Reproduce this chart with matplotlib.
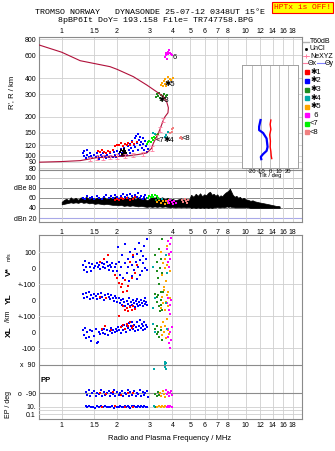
import matplotlib
matplotlib.use('Agg')
import matplotlib.pyplot as plt
from matplotlib.lines import Line2D
from matplotlib.ticker import NullLocator, FixedLocator, FixedFormatter

W, H = 335, 451
plt.rcParams['font.family'] = ['Liberation Sans', 'DejaVu Sans']
plt.rcParams['font.size'] = 5

# ---------------- data ----------------
freq_ticks = [1, 1.5, 2, 3, 4, 5, 6, 7, 8, 10, 12, 14, 16, 18]
freq_labels = ['1', '1.5', '2', '3', '4', '5', '6', '7', '8', '10', '12', '14', '16', '18']
height_ticks = [80, 90, 100, 120, 150, 200, 300, 400, 600, 800]
dbe_ticks = [20, 40, 60, 80, 100]
dbe_labels = ['dBn 20', '40', '60', 'dBe 80', '100']

# electron density profile (true height)
prof_f = [0.755, 1.0, 1.26, 1.83, 2.0, 2.45, 2.9, 3.28, 3.57, 3.72, 3.80, 3.78, 3.64, 3.57,
          3.42, 3.28, 3.15, 3.08, 2.9, 2.6, 2.25, 1.9, 1.55, 1.26, 1.0, 0.755]
prof_h = [721, 634, 545, 490, 467, 410, 353, 313, 287, 262, 235, 215, 200, 189,
          160, 140, 125, 114, 105, 102, 99.5, 98, 96.5, 91.5, 90, 89]
nexyz_f = [1.42, 1.55, 1.68, 1.83, 1.99, 2.21, 2.44, 2.77, 3.08, 3.28, 3.42, 3.57]
nexyz_h = [94, 96.5, 97, 97.5, 98.5, 99.5, 101, 103.5, 114, 140, 160, 189]

# virtual heights of echoes (MHz, km)
rh_blue = [(1.30,104),(1.32,99),(1.33,108),(1.35,96),(1.37,102),(1.38,110),(1.40,98),(1.42,105),
           (1.44,100),(1.46,96),(1.50,101),(1.53,97),(1.55,104),(1.58,99),(1.60,95),(1.63,102),
           (1.66,97),(1.68,104),(1.71,99),(1.74,96),(1.77,102),(1.80,98),(1.83,104),(1.86,100),
           (1.89,97),(1.92,106),(1.95,101),(1.98,98),(2.01,108),(2.04,103),(2.07,99),(2.10,112),
           (2.13,104),(2.16,100),(2.19,115),(2.22,107),(2.25,102),(2.28,118),(2.31,110),(2.34,104),
           (2.36,124),(2.39,114),(2.42,130),(2.44,108),(2.46,120),(2.49,136),(2.51,116),(2.54,142),
           (2.56,126),(2.59,110),(2.61,147),(2.63,132),(2.66,120),(2.68,140),(2.71,128),(2.73,114),
           (2.76,136),(2.78,124),(2.81,110),(2.84,130),(2.87,118),(2.90,106),(2.93,112)]
rh_red = [(1.58,109),(1.62,106),(1.66,110),(1.70,107),(1.74,105),(1.78,109),(1.84,106),(1.90,110),
          (1.96,118),(2.00,122),(2.05,120),(2.10,125),(2.15,119),(2.20,124),(2.25,121),(2.30,126),
          (2.36,122),(2.42,127),(2.48,124),(2.55,128)]
rh_black = [(2.08,106),(2.11,110),(2.13,103),(2.15,108),(2.17,112),(2.19,105),(2.21,109),
            (2.23,104),(2.12,100),(2.18,101)]
rh_lgreen = [(2.90,124),(2.95,128),(3.00,131),(3.04,127),(3.08,136),(3.12,133),(3.16,140),
             (3.20,137),(3.25,145),(3.30,142),(3.34,148)]
rh_teal = [(3.14,151),(3.20,147),(3.64,140),(3.70,144),(3.74,137),(3.77,153)]
rh_salmon = [(3.90,150),(3.96,153),(3.98,160),(4.05,165),(4.40,136),(4.46,139),(4.52,134)]
rh_dgreen = [(3.25,285),(3.30,300),(3.34,292),(3.38,306),(3.42,282),(3.46,296),(3.50,272),
             (3.54,289),(3.58,300),(3.62,280),(3.67,292),(3.72,298)]
rh_orange = [(3.45,352),(3.50,368),(3.54,344),(3.58,380),(3.62,358),(3.66,395),(3.70,348),
             (3.74,374),(3.78,405),(3.82,362),(3.88,392),(3.95,384),(4.02,398)]
rh_magenta = [(3.66,585),(3.68,620),(3.70,600),(3.72,565),(3.76,640),(3.80,612),(3.84,655),
              (3.88,630),(3.92,612),(3.96,598)]
cluster_labels = [('6', 4.00, 575), ('\u27315', 3.64, 357), ('\u27313', 3.35, 270),
                  ('<7', 3.22, 131), ('\u27314', 3.58, 132), ('<8', 4.50, 135)]

# amplitude (dB) envelope
amp_f = [1.00,1.03,1.06,1.09,1.12,1.15,1.19,1.23,1.27,1.31,1.36,1.41,1.46,1.51,1.57,1.63,1.69,
         1.75,1.82,1.89,1.96,2.03,2.10,2.18,2.26,2.34,2.42,2.51,2.60,2.70,2.80,2.90,3.00,3.10,
         3.20,3.30,3.40,3.52,3.64,3.76,3.88,4.00,4.15,4.30,4.45,4.60,4.75,4.90,5.05,5.20,5.35,
         5.50,5.65,5.80,5.95,6.10,6.25,6.40,6.55,6.70,6.85,7.00,7.15,7.30,7.45,7.60,7.75,7.90,
         8.05,8.20,8.35,8.50,8.70,8.90,9.10,9.30,9.50,9.75,10.0,10.3,10.6,10.9,11.2,11.5,11.8,
         12.2,12.6,13.0,13.4,13.8,14.2,14.6,15.0,15.3]
amp_hi = [52,56,58,55,61,57,60,56,61,58,62,57,60,58,61,59,62,58,61,59,63,60,62,58,63,59,62,57,
          61,58,60,55,58,62,60,63,59,61,57,60,56,58,55,57,59,56,58,55,66,62,68,64,69,63,67,65,
          70,72,66,68,64,67,62,65,63,67,70,72,74,78,72,66,62,64,60,62,58,60,57,56,54,55,53,52,
          51,50,49,48,47,46,45,44,44,43]
amp_lo = [47,48,49,50,51,50,51,50,52,50,51,49,50,48,49,48,47,48,47,46,46,45,46,44,45,44,45,44,
          43,44,43,42,43,42,43,42,43,42,43,42,41,42,41,42,41,42,41,42,40,41,40,41,40,41,40,41,
          40,41,40,41,41,42,41,41,42,41,42,43,42,43,42,42,41,41,41,41,41,41,41,41,40,40,40,40,
          40,40,40,40,40,40,40,40,40,40]
dbe_blue = [(1.30,60),(1.34,57),(1.38,63),(1.42,59),(1.46,62),(1.50,58),(1.55,64),(1.60,60),
            (1.65,57),(1.70,62),(1.75,65),(1.80,59),(1.85,63),(1.90,60),(1.95,66),(2.00,62),
            (2.05,58),(2.10,64),(2.15,67),(2.20,61),(2.25,65),(2.30,59),(2.35,68),(2.40,63),
            (2.45,57),(2.50,66),(2.55,62),(2.60,69),(2.65,60),(2.70,64),(2.75,58),(2.80,62),
            (2.85,66),(2.90,60)]
dbe_red = [(1.95,56),(2.00,58),(2.05,55),(2.10,60),(2.15,57),(2.25,59),(2.35,55),(2.45,58),(2.50,61)]
dbe_lgreen = [(2.95,60),(3.00,64),(3.05,62),(3.10,66),(3.15,61),(3.20,65),(3.28,63),(3.35,60)]
dbe_orange = [(3.30,52),(3.40,55),(3.48,50),(3.55,54),(3.62,48),(3.70,53),(3.78,50),(3.85,55)]
dbe_magenta = [(3.78,54),(3.84,50),(3.90,56),(3.96,52),(4.02,48),(4.10,53),(4.18,50)]
dbe_salmon = [(4.50,56),(4.58,52),(4.65,58),(4.72,54),(4.80,50),(4.86,55)]
dbe_dgreen = [(3.25,55),(3.40,58)]
dbe_teal = [(3.50,57)]

# Doppler velocity V* (m/s)
v_blue = [(1.30,20),(1.32,-10),(1.34,45),(1.36,5),(1.38,-25),(1.40,30),(1.42,10),(1.45,-15),
          (1.47,25),(1.50,0),(1.52,15),(1.55,30),(1.58,5),(1.60,20),(1.62,-5),(1.65,35),(1.68,10),
          (1.70,25),(1.73,0),(1.76,40),(1.78,15),(1.80,-10),(1.83,20),(1.86,5),(1.88,30),(1.91,-15),
          (1.94,10),(1.97,25),(2.00,-20),(2.03,130),(2.05,40),(2.08,-40),(2.10,10),(2.13,85),
          (2.16,-60),(2.20,30),(2.22,150),(2.25,-30),(2.28,60),(2.30,5),(2.33,-80),(2.36,100),
          (2.40,20),(2.42,-50),(2.45,70),(2.48,-10),(2.50,120),(2.53,40),(2.55,-70),(2.58,90),
          (2.60,10),(2.63,160),(2.65,-40),(2.68,50),(2.70,110),(2.72,-20),(2.75,75),(2.78,30),
          (2.80,140),(2.83,0),(2.86,60),(2.90,180),(2.92,-10)]
v_red = [(1.62,40),(1.70,60),(1.78,85),(1.95,-40),(2.00,-60),(2.05,-90),(2.10,-120),(2.12,-100),
         (2.15,-150),(2.20,-75),(2.25,-140),(2.30,-110),(2.35,40),(2.40,-60),(2.45,80),(2.50,-30),(2.55,20)]
v_dgreen = [(3.22,80),(3.28,40),(3.30,-20),(3.35,-60),(3.38,120),(3.40,-100),(3.42,0),(3.45,-150),
            (3.48,60),(3.50,180),(3.52,-30)]
v_orange = [(3.45,100),(3.50,-40),(3.55,30),(3.60,-120),(3.62,60),(3.65,0),(3.70,-80),(3.72,140),
            (3.75,20),(3.80,-150),(3.85,80),(3.90,-20)]
v_magenta = [(3.75,120),(3.78,40),(3.80,170),(3.82,90),(3.85,10),(3.88,150),(3.90,60),(3.92,190),(3.95,100)]
v_teal = [(3.15,10),(3.70,80),(3.72,-30)]

# YL (km)
yl_blue = [(1.30,35),(1.32,10),(1.35,45),(1.37,20),(1.40,50),(1.42,5),(1.45,30),(1.48,15),(1.50,40),
           (1.53,25),(1.56,5),(1.58,35),(1.61,15),(1.64,45),(1.66,20),(1.69,0),(1.72,30),(1.75,10),
           (1.78,40),(1.80,20),(1.83,5),(1.86,30),(1.89,15),(1.92,-5),(1.95,25),(1.98,10),(2.01,-10),
           (2.04,15),(2.07,-20),(2.10,0),(2.13,-30),(2.16,5),(2.19,-15),(2.22,-35),(2.25,-5),(2.28,-25),
           (2.31,10),(2.34,-40),(2.37,-10),(2.40,-30),(2.43,0),(2.46,-20),(2.49,-45),(2.52,-5),
           (2.55,-25),(2.58,5),(2.61,-35),(2.64,-10),(2.67,-30),(2.70,0),(2.73,-20),(2.76,-40),
           (2.79,-5),(2.82,-25),(2.85,10),(2.88,-15),(2.91,-30)]
yl_red = [(1.62,20),(1.75,10),(2.15,-40),(2.20,-60),(2.25,-50),(2.30,-70),(2.35,-45),(2.40,-65),
          (2.45,-35),(2.50,-55)]
yl_dgreen = [(3.22,40),(3.28,20),(3.30,-10),(3.35,30),(3.38,-40),(3.42,-70),(3.45,0),(3.48,-30),
             (3.50,-60),(3.55,50)]
yl_orange = [(3.45,-50),(3.50,20),(3.55,-20),(3.60,60),(3.65,-60),(3.70,-10),(3.75,30),(3.80,-40),(3.90,10)]
yl_magenta = [(3.75,-20),(3.80,10),(3.85,-60),(3.88,-90),(3.90,-30),(3.95,0)]
yl_teal = [(3.15,-50),(3.20,10),(3.70,-20)]

# XL (km)
xl_blue = [(1.30,10),(1.32,-20),(1.34,25),(1.36,-40),(1.38,0),(1.40,-30),(1.42,15),(1.45,-55),
           (1.47,5),(1.50,-25),(1.53,20),(1.55,-70),(1.57,-60),(1.60,0),(1.62,-15),(1.65,15),
           (1.68,-5),(1.70,20),(1.73,-10),(1.76,10),(1.79,-20),(1.82,5),(1.85,25),(1.88,-5),
           (1.91,15),(1.94,0),(1.97,20),(2.00,5),(2.03,30),(2.06,10),(2.09,-5),(2.12,35),(2.15,15),
           (2.18,45),(2.21,20),(2.24,0),(2.27,40),(2.30,25),(2.33,55),(2.36,10),(2.39,35),(2.42,60),
           (2.45,20),(2.48,45),(2.51,5),(2.54,30),(2.57,65),(2.60,15),(2.63,40),(2.66,75),(2.69,25),
           (2.72,50),(2.75,10),(2.78,35),(2.81,60),(2.84,20),(2.87,45),(2.90,30)]
xl_red = [(1.65,20),(1.72,40),(1.85,10),(2.05,100),(2.10,30),(2.15,45),(2.20,20),(2.25,50),
          (2.30,35),(2.35,60),(2.40,25),(2.45,40)]
xl_dgreen = [(3.22,20),(3.28,-10),(3.30,40),(3.35,0),(3.40,-30),(3.45,10),(3.50,-50)]
xl_orange = [(3.45,30),(3.50,-20),(3.55,60),(3.60,0),(3.65,40),(3.70,-40),(3.75,80),(3.80,10),(3.85,-10)]
xl_magenta = [(3.78,-30),(3.80,20),(3.85,-70),(3.88,-100),(3.90,0),(3.95,-50),(4.00,30)]
xl_teal = [(3.15,50),(3.20,0),(3.72,20)]

# polarization PP (deg)
pp_blue = [(1.35,-80),(1.38,-100),(1.40,-70),(1.43,-110),(1.46,-90),(1.50,-75),(1.53,-105),
           (1.56,-85),(1.60,-95),(1.63,-70),(1.66,-110),(1.70,-80),(1.73,-100),(1.76,-90),(1.80,-75),
           (1.83,-105),(1.86,-85),(1.90,-95),(1.93,-70),(1.96,-110),(2.00,-80),(2.04,-100),(2.08,-90),
           (2.12,-75),(2.16,-105),(2.20,-85),(2.24,-95),(2.28,-70),(2.32,-110),(2.36,-80),(2.40,-100),
           (2.44,-90),(2.48,-75),(2.52,-105),(2.56,-85),(2.60,-95),(2.65,-72),(2.70,-108),(2.75,-82),
           (2.80,-98),(2.85,-88),(2.90,-78),(2.96,-112)]
pp_red = [(1.62,-85),(1.75,-95),(1.90,-80),(2.10,-100),(2.30,-90),(2.45,-85)]
pp_dgreen = [(3.22,-95),(3.28,-110),(3.32,-80),(3.38,-100)]
pp_orange = [(3.42,-90),(3.48,-105),(3.55,-75),(3.60,-95),(3.65,-115)]
pp_magenta = [(3.70,-70),(3.74,-95),(3.78,-80),(3.82,-110),(3.86,-90),(3.92,-75),(3.98,-100)]
pp_teal = [(3.17,63),(3.62,110),(3.64,95),(3.66,78),(3.68,62),(3.70,100)]

# EP (deg)
ep_blue = [(1.35,12),(1.38,7),(1.41,15),(1.44,9),(1.48,11),(1.52,6),(1.56,14),(1.60,8),(1.64,12),
           (1.68,10),(1.72,16),(1.76,7),(1.80,11),(1.84,9),(1.88,13),(1.92,6),(1.96,15),(2.00,10),
           (2.04,8),(2.08,14),(2.12,11),(2.16,7),(2.20,13),(2.24,9),(2.28,16),(2.32,10),(2.36,6),
           (2.40,12),(2.44,9),(2.48,15),(2.52,11),(2.56,7),(2.60,13),(2.65,10),(2.70,17),(2.75,8),
           (2.80,12),(2.86,9),(2.92,11)]
ep_red = [(1.65,10),(1.95,12),(2.20,9),(2.45,11)]
ep_teal = [(3.18,12),(3.22,9)]
ep_dgreen = [(3.26,10)]
ep_orange = [(3.30,11),(3.38,14),(3.45,10),(3.52,13),(3.60,9),(3.66,12)]
ep_magenta = [(3.72,11),(3.78,14),(3.84,10),(3.90,12),(3.96,9)]

# tilt inset
tilt_blue_h = [189, 168, 158, 150, 136, 117, 109, 103, 98, 94]
tilt_blue = [-10.8, -12.4, -12.4, -7.9, -4.0, -2.9, -4.0, -7.9, -10.5, -10.0]
tilt_red_h = [189, 175, 160, 145, 130, 117, 108, 100, 95]
tilt_red = [0.8, 0.0, 0.8, -0.5, 0.3, 0.0, 0.8, 1.2, 1.8]
tilt_ticks = [-20, -10, 0, 10, 20]

legend_entries = [('\u27311', 'red'), ('\u27312', 'blue'), ('\u27313', 'dgreen'), ('\u27314', 'teal'),
                  ('\u27315', 'orange'), ('  6', 'magenta'), ('<7', 'lgreen'), ('<8', 'salmon')]

# ---------------- style ----------------
COL = {'red': '#ff0000', 'blue': '#0000ff', 'dgreen': '#1e8c1e', 'teal': '#00a8a8',
       'orange': '#ffa500', 'magenta': '#ff00ff', 'lgreen': '#00f000', 'salmon': '#f08080',
       'black': '#000000'}
GRID = '#cfcfcf'
SPINE = '#8a8a8a'
PROF = '#b0103a'
PINK = '#ff7fa0'
XLIM = (0.7556, 20.15)


def rect(x0, y0, x1, y1):
    return [x0 / W, 1 - y1 / H, (x1 - x0) / W, (y1 - y0) / H]


def sc(ax, pts, color, s=4.6, z=3):
    ax.scatter([p[0] for p in pts], [p[1] for p in pts], s=s, marker='s',
               c=COL[color], linewidths=0, zorder=z, clip_on=True)


def freq_axis(ax, labels=True, pad=2, top=False):
    ax.set_xscale('log')
    ax.set_xlim(*XLIM)
    ax.xaxis.set_major_locator(FixedLocator(freq_ticks))
    ax.xaxis.set_major_formatter(FixedFormatter(freq_labels if labels else [''] * len(freq_ticks)))
    ax.xaxis.set_minor_locator(NullLocator())
    ax.tick_params(axis='x', length=0, pad=pad, labelsize=5)
    if top:
        ax.xaxis.tick_top()
    for sp in ax.spines.values():
        sp.set_color(SPINE)
        sp.set_linewidth(0.8)
    ax.grid(True, axis='x', color=GRID, lw=0.6, zorder=0)


fig = plt.figure(figsize=(W / 100, H / 100), dpi=100)
fig.patch.set_facecolor('white')

# titles
fig.text(150 / W, 1 - 12.5 / H, 'TROMSO NORWAY   DYNASONDE 25-07-12 0348UT 15\u00b0E',
         family=['Liberation Mono', 'DejaVu Sans Mono'], fontsize=6.0, ha='center', va='center')
fig.text(156 / W, 1 - 20 / H, '8pBP6It DoY= 193.158 File= TR747758.BPG',
         family=['Liberation Mono', 'DejaVu Sans Mono'], fontsize=6.0, ha='center', va='center')
fig.text(302.5 / W, 1 - 7.5 / H, 'HPTx is OFF!', family=['Liberation Mono', 'DejaVu Sans Mono'],
         fontsize=5.8, color='#ff0000', ha='center', va='center',
         bbox=dict(boxstyle='square,pad=0.25', fc='#ffff00', ec='#ff0000', lw=0.8))

# ---------- main height panel ----------
ax = fig.add_axes(rect(39.3, 37, 301.7, 170))
freq_axis(ax, pad=1.5, top=True)
ax.set_yscale('log')
ax.set_ylim(77.4, 832)
ax.yaxis.set_major_locator(FixedLocator(height_ticks))
ax.yaxis.set_major_formatter(FixedFormatter([str(h) for h in height_ticks]))
ax.yaxis.set_minor_locator(NullLocator())
ax.tick_params(axis='y', length=0, pad=2, labelsize=5)
ax.grid(True, axis='y', color=GRID, lw=0.6, zorder=0)
ax.plot(prof_f, prof_h, color=PROF, lw=0.8, zorder=4)
ax.errorbar(nexyz_f, nexyz_h, yerr=[[h * 0.04 for h in nexyz_h], [h * 0.04 for h in nexyz_h]],
            fmt='none', ecolor=PINK, elinewidth=0.6, capsize=1.3, capthick=0.6, zorder=5)
sc(ax, rh_blue, 'blue')
sc(ax, rh_red, 'red')
sc(ax, rh_black, 'black')
sc(ax, rh_lgreen, 'lgreen')
sc(ax, rh_teal, 'teal')
sc(ax, rh_salmon, 'salmon')
sc(ax, rh_dgreen, 'dgreen')
sc(ax, rh_orange, 'orange')
sc(ax, rh_magenta, 'magenta')
for txt, f, h in cluster_labels:
    ax.text(f, h, txt, fontsize=5.5, ha='left', va='center', color='black', zorder=6)
fig.text(12 / W, 1 - 92 / H, "R', R / km", rotation=90, ha='center', va='center', fontsize=5.5)

# tilt inset
axt = fig.add_axes(rect(241.7, 65, 297.7, 167.7))
axt.set_facecolor('white')
axt.set_yscale('log')
axt.set_ylim(80.7, 505)
axt.set_xlim(-32, 31)
axt.set_xticks(tilt_ticks)
axt.set_xticklabels(['-20', '-10', '0', '10', '20'])
axt.set_yticks([])
axt.yaxis.set_minor_locator(NullLocator())
axt.tick_params(axis='x', length=0, pad=1, labelsize=4.2)
axt.grid(True, axis='x', color='#a8a8a8', lw=0.5)
for sp in axt.spines.values():
    sp.set_color('#a0a0a0')
    sp.set_linewidth(0.7)
axt.plot(tilt_blue, tilt_blue_h, color=COL['blue'], lw=1.6)
axt.plot(tilt_red, tilt_red_h, color=COL['red'], lw=1.0)
axt.set_zorder(5)
fig.text(270 / W, 1 - 175.5 / H, 'Tilt / deg', ha='center', va='center', fontsize=4.2, zorder=6)

# ---------- amplitude panel ----------
ax2 = fig.add_axes(rect(39.3, 170, 301.7, 222))
freq_axis(ax2, pad=5.0)
ax2.set_ylim(12.1, 115)
ax2.set_yticks(dbe_ticks)
ax2.set_yticklabels(dbe_labels)
ax2.tick_params(axis='y', length=0, pad=2, labelsize=5)
ax2.axhline(100, color='#c8c8c8', lw=0.7, zorder=1)
for lvl in (80, 60, 40):
    ax2.axhline(lvl, color='#8c8c8c', lw=0.7, zorder=1)
ax2.axhline(20, color='#a8a8e8', lw=0.8, zorder=1)
ax2.fill_between(amp_f, amp_lo, amp_hi, color='black', lw=0.5, edgecolor='black', zorder=2)
sc(ax2, dbe_blue, 'blue')
sc(ax2, dbe_red, 'red')
sc(ax2, dbe_lgreen, 'lgreen')
sc(ax2, dbe_orange, 'orange')
sc(ax2, dbe_magenta, 'magenta')
sc(ax2, dbe_salmon, 'salmon')
sc(ax2, dbe_dgreen, 'dgreen')
sc(ax2, dbe_teal, 'teal')

# ---------- lower multi-parameter panel ----------
LR = rect(39.3, 235, 301.7, 419.3)
ax3 = fig.add_axes(LR)
freq_axis(ax3, pad=2.0)
ax3.set_yticks([])
ax3.set_ylim(0, 1)
fig.text(170 / W, 1 - 439 / H, 'Radio and Plasma Frequency / MHz', ha='center', va='center', fontsize=5.5)


def sub_axes(ylim, ticks, labels, log=False):
    a = fig.add_axes(LR)
    a.patch.set_visible(False)
    for sp in a.spines.values():
        sp.set_visible(False)
    a.set_xscale('log')
    a.set_xlim(*XLIM)
    a.set_xticks([])
    a.xaxis.set_minor_locator(NullLocator())
    if log:
        a.set_yscale('log')
    a.set_ylim(float(ylim[0]), float(ylim[1]))
    a.yaxis.set_major_locator(FixedLocator(ticks))
    a.yaxis.set_major_formatter(FixedFormatter(labels))
    a.yaxis.set_minor_locator(NullLocator())
    a.tick_params(axis='y', length=0, pad=2.5, labelsize=5)
    return a


av = sub_axes((-943.75, 208.1), [100, 0, -100], ['100', '0', '+-100'])
for lvl in (100, -100):
    av.axhline(lvl, color=GRID, lw=0.6, zorder=0)
for pts, c in ((v_blue, 'blue'), (v_red, 'red'), (v_dgreen, 'dgreen'), (v_orange, 'orange'),
               (v_magenta, 'magenta'), (v_teal, 'teal')):
    sc(av, pts, c)

ay = sub_axes((-745.6, 406.25), [0, -100], ['0', '+-100'])
ay.axhline(-100, color=GRID, lw=0.6, zorder=0)
for pts, c in ((yl_blue, 'blue'), (yl_red, 'red'), (yl_dgreen, 'dgreen'), (yl_orange, 'orange'),
               (yl_magenta, 'magenta'), (yl_teal, 'teal')):
    sc(ay, pts, c)

axl = sub_axes((-545.6, 606.25), [0, -100], ['0', '-100'])
axl.axhline(-100, color=GRID, lw=0.6, zorder=0)
for pts, c in ((xl_blue, 'blue'), (xl_red, 'red'), (xl_dgreen, 'dgreen'), (xl_orange, 'orange'),
               (xl_magenta, 'magenta'), (xl_teal, 'teal')):
    sc(axl, pts, c)

app = sub_axes((-255.4, 916.8), [90, -90], ['x  90', 'o  -90'])
for lvl in (90, -90):
    app.axhline(lvl, color='#8c8c8c', lw=0.8, zorder=0)
for pts, c in ((pp_blue, 'blue'), (pp_red, 'red'), (pp_dgreen, 'dgreen'), (pp_orange, 'orange'),
               (pp_magenta, 'magenta'), (pp_teal, 'teal')):
    sc(app, pts, c)

aep = sub_axes((10.0 ** -2.45, 1e48), [10, 0.1], ['10.', '0.1'], log=True)
for lvl in (10, 1, 0.1):
    aep.axhline(lvl, color=GRID, lw=0.6, zorder=0)
for pts, c in ((ep_blue, 'blue'), (ep_red, 'red'), (ep_teal, 'teal'), (ep_dgreen, 'dgreen'),
               (ep_orange, 'orange'), (ep_magenta, 'magenta')):
    sc(aep, pts, c)

# left side labels of lower panel
fig.text(9 / W, 1 - 272 / H, 'V*', rotation=90, ha='center', va='center', fontsize=6, fontweight='bold')
fig.text(9 / W, 1 - 257 / H, 'm/s', rotation=90, ha='center', va='center', fontsize=3.8)
fig.text(9 / W, 1 - 299 / H, 'YL', rotation=90, ha='center', va='center', fontsize=6, fontweight='bold')
fig.text(9 / W, 1 - 316 / H, '/km', rotation=90, ha='center', va='center', fontsize=5)
fig.text(9 / W, 1 - 332 / H, 'XL', rotation=90, ha='center', va='center', fontsize=6, fontweight='bold')
fig.text(46 / W, 1 - 380 / H, 'PP', ha='center', va='center', fontsize=5.5, fontweight='bold')
fig.text(9 / W, 1 - 404 / H, 'EP / deg', rotation=90, ha='center', va='center', fontsize=5)

# ---------- right legend ----------
def fx(x):
    return x / W


def fy(y):
    return 1 - y / H


fig.add_artist(Line2D([fx(303), fx(309)], [fy(41.7), fy(41.7)], color='#b0b0b0', lw=1.0))
fig.text(fx(310), fy(41.7), 'T60dB', fontsize=5, va='center')
fig.add_artist(Line2D([fx(306)], [fy(48.7)], marker='s', ms=1.0, color='black', lw=0))
fig.text(fx(310), fy(48.7), 'UnCl', fontsize=5, va='center')
fig.add_artist(Line2D([fx(303), fx(309)], [fy(56), fy(56)], color=PINK, lw=0.6))
fig.add_artist(Line2D([fx(306)], [fy(56)], marker='+', ms=3, mew=0.7, color=PINK, lw=0))
fig.text(fx(310), fy(56), 'NeXYZ', fontsize=5, va='center')
fig.add_artist(Line2D([fx(303), fx(307.5)], [fy(63.3), fy(63.3)], color=PINK, lw=0.8))
fig.text(fx(307.5), fy(63.3), '\u0398x', fontsize=5, va='center')
fig.add_artist(Line2D([fx(317), fx(324.5)], [fy(63.3), fy(63.3)], color='#8080ff', lw=0.8))
fig.text(fx(324.5), fy(63.3), '\u0398y', fontsize=5, va='center')
for i, (txt, c) in enumerate(legend_entries):
    yy = 72.3 + i * 8.6
    fig.add_artist(Line2D([fx(306.7)], [fy(yy)], marker='s', ms=2.4, color=COL[c], lw=0))
    fig.text(fx(310), fy(yy), txt, fontsize=5.5, va='center')

fig.savefig('out.png', dpi=100)
